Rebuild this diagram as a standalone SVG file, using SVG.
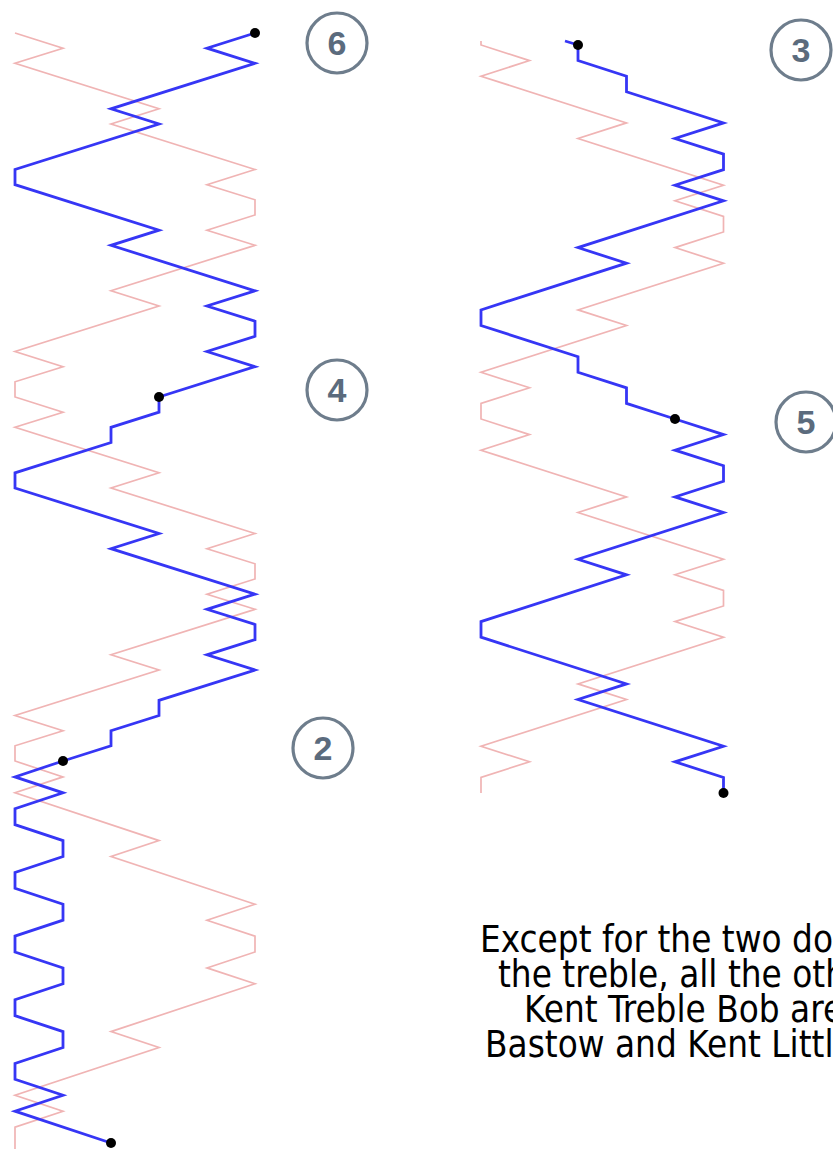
<svg xmlns="http://www.w3.org/2000/svg" width="833" height="1149" viewBox="0 0 833 1149">
<style>
.treble{fill:none;stroke:#f0b4b4;stroke-width:1.7;stroke-linejoin:miter}
.work{fill:none;stroke:#3636f5;stroke-width:2.8;stroke-linejoin:miter}
.dot{fill:#000}
.ring{fill:#fff;stroke:#6e7d8c;stroke-width:3.2}
.num{font-family:'Liberation Sans',Arial,sans-serif;font-weight:bold;font-size:34px;fill:#5b6b7d;text-anchor:middle}
.note{font-family:'DejaVu Sans Condensed','DejaVu Sans',sans-serif;font-stretch:condensed;font-size:36.5px;fill:#000}
</style>
<rect width="833" height="1149" fill="#fff"/>
<g id="connectors">
<polyline class="treble" points="15,33 63,48.2 15,63.3 159,108.8 111,124 255,169.5 207,184.7 255,199.8 255,215 207,230.2 255,245.3 111,290.8 159,306 15,351.5 63,366.7 15,381.8 15,397 63,412.2 15,427.3 159,472.8 111,488 255,533.5 207,548.7 255,563.8 255,579 207,594.2 255,609.3 111,654.8 159,670 15,715.5 63,730.7 15,745.8 15,761 63,776.9 15,792.8 159,840.6 111,856.5 255,904.25 207,920.2 255,936.1 255,952 207,967.9 255,983.8 111,1031.6 159,1047.5 15,1095.25 63,1111.2 15,1127.1 15,1149"/>
<polyline class="treble" points="481,41 481,45 529.5,60.6 481,76.2 626.5,122.9 578,138.5 723.5,185.25 675,200.8 723.5,216.4 723.5,232 675,247.6 723.5,263.2 578,309.9 626.5,325.5 481,372.25 529.5,387.8 481,403.4 481,419 529.5,434.6 481,450.2 626.5,496.9 578,512.5 723.5,559.25 675,574.8 723.5,590.4 723.5,606 675,621.6 723.5,637.2 578,683.9 626.5,699.5 481,746.25 529.5,761.8 481,777.4 481,793"/>
<polyline class="work" points="255,33 207,48.2 255,63.3 111,108.8 159,124 15,169.5 15,184.7 159,230.2 111,245.3 255,290.8 207,306 255,321.2 255,336.3 207,351.5 255,366.7 159,397 159,412.2 111,427.3 111,442.5 15,472.8 15,488 159,533.5 111,548.7 255,594.2 207,609.3 255,624.5 255,639.7 207,654.8 255,670 159,700.3 159,715.5 111,730.7 111,745.8 63,761 15,776.9 63,792.8 15,808.75 15,824.7 63,840.6 63,856.5 15,872.4 15,888.3 63,904.25 63,920.2 15,936.1 15,952 63,967.9 63,983.8 15,999.75 15,1015.7 63,1031.6 63,1047.5 15,1063.4 15,1079.3 63,1095.25 15,1111.2 111,1143"/>
<polyline class="work" points="565,41 578,45 578,60.6 626.5,76.2 626.5,91.75 723.5,122.9 675,138.5 723.5,154.1 723.5,169.7 675,185.25 723.5,200.8 578,247.6 626.5,263.2 481,309.9 481,325.5 578,356.7 578,372.25 626.5,387.8 626.5,403.4 675,419 723.5,434.6 675,450.2 723.5,465.75 723.5,481.3 675,496.9 723.5,512.5 578,559.25 626.5,574.8 481,621.6 481,637.2 626.5,683.9 578,699.5 723.5,746.25 675,761.8 723.5,777.4 723.5,793"/>
</g>
<g id="leadheads">
<circle class="dot" cx="255" cy="33" r="5"/>
<circle class="dot" cx="159" cy="397" r="5"/>
<circle class="dot" cx="63" cy="761" r="5"/>
<circle class="dot" cx="111" cy="1143" r="5"/>
<circle class="dot" cx="578" cy="45" r="5"/>
<circle class="dot" cx="675" cy="419" r="5"/>
<circle class="dot" cx="723.5" cy="793" r="5"/>
</g>
<g id="place6"><circle class="ring" cx="337" cy="43" r="30"/><text class="num" x="337" y="55">6</text></g>
<g id="place4"><circle class="ring" cx="337" cy="390" r="30"/><text class="num" x="337" y="402">4</text></g>
<g id="place2"><circle class="ring" cx="323" cy="748" r="30"/><text class="num" x="323" y="760">2</text></g>
<g id="place3"><circle class="ring" cx="801" cy="50" r="30"/><text class="num" x="801" y="62">3</text></g>
<g id="place5"><circle class="ring" cx="806" cy="422" r="30"/><text class="num" x="806" y="434">5</text></g>
<g id="note">
<text class="note"><tspan x="480" y="952">Except for the two do</tspan><tspan x="498" y="987">the treble, all the oth</tspan><tspan x="524" y="1022">Kent Treble Bob are</tspan><tspan x="485" y="1057">Bastow and Kent Littl</tspan></text>
</g>
</svg>
